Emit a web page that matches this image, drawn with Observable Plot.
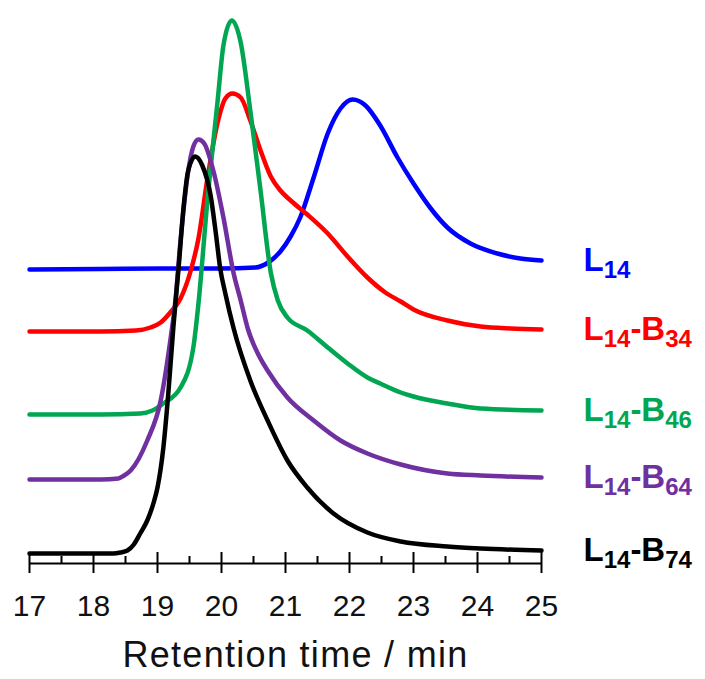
<!DOCTYPE html>
<html>
<head>
<meta charset="utf-8">
<script src="https://cdn.jsdelivr.net/npm/d3@7"></script>
<script src="https://cdn.jsdelivr.net/npm/@observablehq/plot@0.6"></script>
<style>
  html, body { margin: 0; padding: 0; background: #ffffff; }
  #chart svg { display: block; }
</style>
</head>
<body>
<div id="chart"></div>
<script>
// ---- Data ----
const seriesNames = ["L14", "L14-B34", "L14-B46", "L14-B64", "L14-B74"];
const seriesColors = ["#0000ff", "#ff0000", "#00a651", "#7030a0", "#000000"];

const tL14 = [17.00,18.11,19.05,19.98,20.53,20.73,20.92,21.08,21.23,21.44,21.66,21.86,22.05,22.25,22.48,22.75,23.00,23.27,23.53,23.89,24.31,24.67,25.00];
const yL14 = [294,294.5,295,295,296,301,312,327,346,386,430,455,464,458,438,406,380,355,336,320,310,305,303];

const tB34 = [17.00,18.11,18.66,18.89,19.05,19.20,19.36,19.52,19.64,19.78,19.94,20.06,20.17,20.30,20.45,20.61,20.77,20.92,21.08,21.34,21.66,21.97,22.28,22.56,22.80,23.00,23.53,24.05,24.52,25.00];
const yB34 = [232,232,233,236,241,251,265,293,325,385,441,465,470,466,443,413,387,373,363,349,330,307,286,271,262,254,243,237,235,234];

const tB46 = [17.00,18.11,18.73,18.92,19.09,19.36,19.56,19.64,19.78,19.94,20.03,20.16,20.30,20.45,20.61,20.77,20.88,21.03,21.34,21.66,21.97,22.28,22.48,22.80,23.00,23.53,24.05,25.00];
const yB46 = [149,149,150,153,160,176,216,260,363,463,518,543,521,453,373,291,263,246,233,216,200,186,180,171,167,160,155,153];

const tB64 = [17.00,18.11,18.39,18.48,18.58,18.84,19.05,19.20,19.28,19.36,19.47,19.56,19.64,19.73,19.88,20.03,20.19,20.30,20.41,20.56,20.72,21.03,21.44,21.86,22.28,22.80,23.53,24.05,25.00];
const yB64 = [84,84,85,88,93,123,163,223,263,323,388,417,424,420,391,346,290,263,235,211,193,166,143,123,110,99,90,88,86];

const tB74 = [17.00,18.11,18.31,18.42,18.53,18.63,18.73,18.84,18.94,19.00,19.09,19.17,19.25,19.33,19.41,19.48,19.59,19.70,19.83,19.91,19.98,20.06,20.19,20.45,20.72,21.03,21.34,21.75,22.28,22.80,23.53,24.05,25.00];
const yB74 = [10,10,10,11,13,19,30,43,61,76,115,171,238,296,358,393,407,398,368,331,295,270,235,183,143,103,76,50,31,22,17,15,13];

const majorTicks = [17, 18, 19, 20, 21, 22, 23, 24, 25];
const minorTicks = [17.5, 18.5, 19.5, 20.5, 21.5, 22.5, 23.5, 24.5];
const xTitle = "Retention time / min";

// ---- Build tables ----
const seriesT = [tL14, tB34, tB46, tB64, tB74];
const seriesY = [yL14, yB34, yB46, yB64, yB74];
const rows = seriesNames.flatMap((name, i) =>
  seriesT[i].map((t, j) => ({series: name, t, v: seriesY[i][j]}))
);
const labelRows = seriesNames.map((name, i) => ({
  series: name,
  t: seriesT[i][seriesT[i].length - 1],
  v: seriesY[i][seriesY[i].length - 1]
}));

const font = "'Liberation Sans', Arial, Helvetica, sans-serif";

const svg = Plot.plot({
  width: 705,
  height: 679,
  marginLeft: 29,
  marginRight: 164,
  marginTop: 0,
  marginBottom: 116,
  style: {fontFamily: font, background: "#ffffff", color: "#000000", overflow: "visible"},
  x: {domain: [17, 25]},
  y: {domain: [0, 563], axis: null},
  color: {domain: seriesNames, range: seriesColors},
  marks: [
    Plot.ruleY([0], {stroke: "#000", strokeWidth: 2}),
    Plot.ruleX(majorTicks, {x: d => d, y1: -10, y2: 11, stroke: "#000", strokeWidth: 2}),
    Plot.ruleX(minorTicks, {x: d => d, y1: 0, y2: 7, stroke: "#000", strokeWidth: 2}),
    Plot.axisX({ticks: majorTicks, tickSize: 0, tickPadding: 31, fontSize: 30, label: null, tickFormat: d => String(d), fill: "#111"}),
    Plot.line(rows, {x: "t", y: "v", z: "series", stroke: "series", strokeWidth: 4.5, curve: "monotone-x", strokeLinejoin: "round", strokeLinecap: "round"}),
    Plot.text(labelRows, {x: "t", y: "v", text: "series", fill: "series", dx: 42, textAnchor: "start", fontSize: 33, fontWeight: "bold"}),
    Plot.text([xTitle], {text: d => d, frameAnchor: "bottom", dy: 92, dx: 10, fontSize: 36, lineAnchor: "middle", fill: "#111"})
  ]
});

// subscripts for the series labels (text stays real text)
d3.select(svg).selectAll("text").each(function () {
  const s = this.textContent;
  const sel = d3.select(this);
  if (s === xTitle) {
    sel.style("letter-spacing", "1.3px");
    return;
  }
  if (!seriesNames.includes(s)) return;
  sel.text(null);
  const parts = [...s.matchAll(/([A-Za-z\-]+)(\d*)/g)];
  let shifted = false;
  parts.forEach(m => {
    sel.append("tspan").attr("dy", shifted ? -7 : 0).text(m[1]);
    shifted = false;
    if (m[2]) {
      sel.append("tspan").attr("dy", 7).attr("font-size", 24).text(m[2]);
      shifted = true;
    }
  });
});

document.getElementById("chart").appendChild(svg);
</script>
</body>
</html>
